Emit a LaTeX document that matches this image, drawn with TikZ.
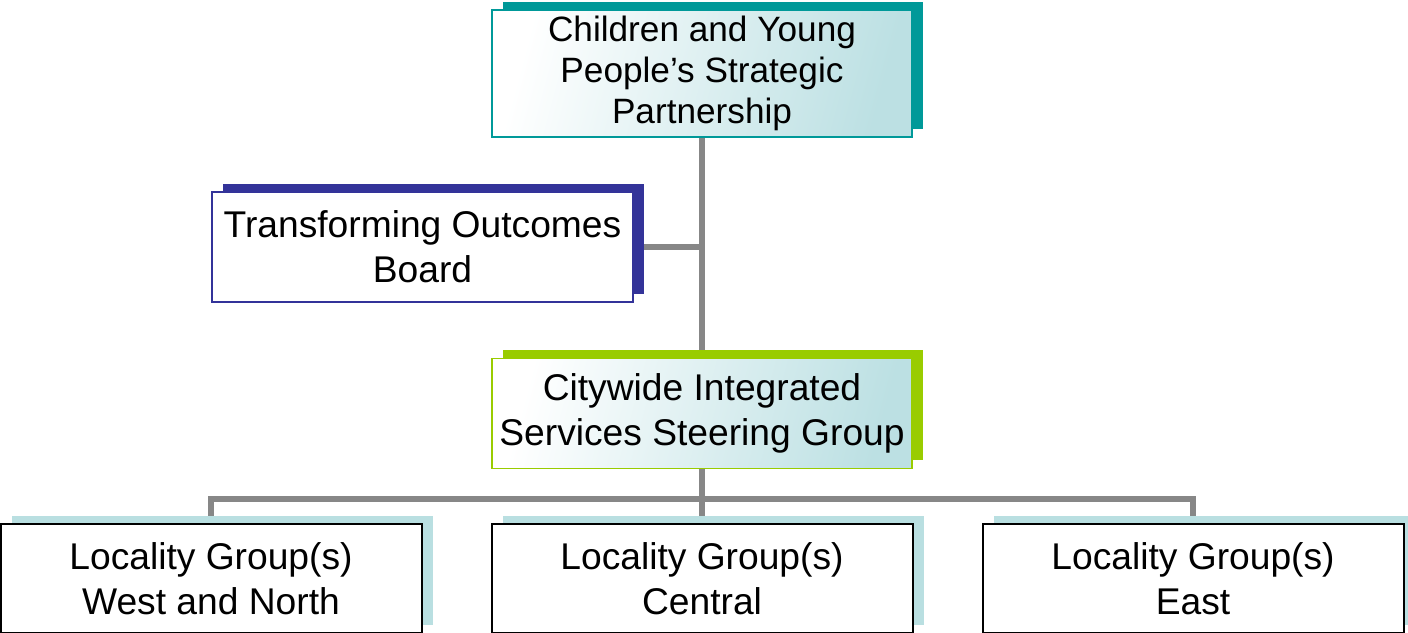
\documentclass[tikz,border=0pt]{standalone}
\usepackage{fontspec}
\setmainfont{Liberation Sans}
\usetikzlibrary{positioning,shadows,backgrounds,calc}

\definecolor{leadteal}{HTML}{009999}
\definecolor{boardblue}{HTML}{333399}
\definecolor{steergreen}{HTML}{99CC00}
\definecolor{grouptint}{HTML}{B9DFE1}
\definecolor{boxtint}{HTML}{BCE0E3}
\definecolor{linkgray}{HTML}{878787}

\begin{document}
\begin{tikzpicture}[x=1pt,y=1pt]
          \tikzset{BoxStyle/.style = {align = center, inner sep = 2pt, minimum width = 210pt,
                   minimum height = 55pt, font = \fontsize{18.6}{22.5}\selectfont}}
          \tikzset{ShadeStyle/.style = {BoxStyle, draw = #1, line width = 0.6pt,
                   left color = white, right color = boxtint, shading angle = 75,
                   general shadow = {fill = #1, shadow xshift = 5.5pt, shadow yshift = 4pt}}}
          \tikzset{BoardStyle/.style = {BoxStyle, draw = boardblue, fill = white, line width = 0.6pt,
                   general shadow = {fill = boardblue, shadow xshift = 5.5pt, shadow yshift = 4pt}}}
          \tikzset{GroupStyle/.style = {BoxStyle, draw = black, fill = white, line width = 1pt,
                   minimum width = 210.5pt, minimum height = 54.5pt,
                   general shadow = {fill = grouptint, shadow xshift = 5.75pt, shadow yshift = 4pt}}}
          \tikzset{LinkStyle/.style = {draw = linkgray, line width = 3pt}}

          \useasboundingbox (0,0) rectangle (704,-316);

          \node[ShadeStyle = leadteal, minimum height = 63.5pt,
                font = \fontsize{17.6}{20.6}\selectfont] (csp) at (351,-36.75)
               {Children and Young\\People’s Strategic\\Partnership};
          \node[BoardStyle, minimum width = 210.5pt] (tob) at (211.25,-123.5)
               {Transforming Outcomes\\Board};
          \node[ShadeStyle = steergreen, below = 110pt of csp] (cissg)
               {Citywide Integrated\\Services Steering Group};

          \node[GroupStyle, below = 27pt of cissg] (lgc) {Locality Group(s)\\Central};
          \node[GroupStyle, left = 34pt of lgc] (lgwn) {Locality Group(s)\\West and North};
          \node[GroupStyle, right = 34pt of lgc] (lge) {Locality Group(s)\\East};

          \coordinate (bus) at ($(cissg.south)!0.555!(lgc.north)$);

          \begin{scope}[on background layer]
            \draw[LinkStyle] (csp.south) -- (cissg.north);
            \draw[LinkStyle] (tob.east) -- (tob.east -| csp.south);
            \draw[LinkStyle] (cissg.south) -- (lgc.north);
            \draw[LinkStyle] (lgwn.north) |- (bus) -| (lge.north);
          \end{scope}
        \end{tikzpicture}
\end{document}
